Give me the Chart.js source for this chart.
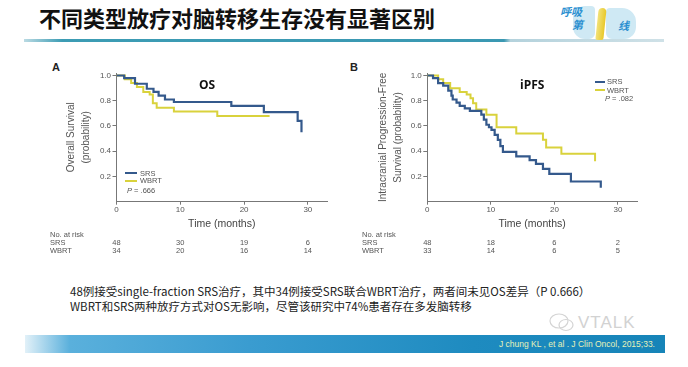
<!DOCTYPE html>
<html>
<head>
<meta charset="utf-8">
<script src="https://cdn.jsdelivr.net/npm/chart.js"></script>
<style>
  body { margin: 0; background: #fff; }
  #page { position: relative; width: 688px; height: 367px; overflow: hidden; background: #fff; font-family: "Liberation Sans", Arial, sans-serif; }
  .t { position: absolute; white-space: nowrap; line-height: 1; }
  .c { transform: translateX(-50%); }
  canvas { position: absolute; }
  .risk { font-size: 7.5px; color: #555; }
  .leg { position: absolute; height: 2px; }
  .logo { font-family: 'Noto Sans CJK SC'; font-weight: 700; font-style: italic; font-size: 11px; color: #2a8fd0; }
</style>
</head>
<body>
<div id="page">
  <!-- header -->
  <div class="t" style="left:39px;top:6px;font-family:'Noto Sans CJK SC';font-weight:700;font-size:22px;color:#111;">不同类型放疗对脑转移生存没有显著区别</div>
  <div style="position:absolute;left:24px;top:39px;width:640px;height:3px;background:linear-gradient(to right, rgba(60,150,175,0.35) 0%, #3c9cb4 6%, #3a98b2 75%, #b4d2dc 76%, #cfe1e7 100%);"></div>
  <div style="position:absolute;left:573px;top:6px;width:22px;height:33px;border-radius:12px 4px 6px 12px;background:#cfe9f4;"></div>
  <div style="position:absolute;left:606px;top:8px;width:30px;height:31px;border-radius:4px 14px 12px 6px;background:#cfe9f4;"></div>
  <div class="t logo" style="left:560px;top:6px;">呼吸</div>
  <div class="t logo" style="left:572px;top:19px;">第</div>
  <div style="position:absolute;left:597px;top:8px;width:8px;height:32px;border-radius:4px 4px 2px 2px;background:linear-gradient(to right,#f2e27a,#e8c82a);transform:skewX(-6deg);"></div>
  <div class="t logo" style="left:618px;top:20px;">线</div>

  <!-- panel labels -->
  <div class="t" style="left:52px;top:62px;font-weight:700;font-size:11px;color:#222;">A</div>
  <div class="t" style="left:350px;top:62px;font-weight:700;font-size:11px;color:#222;">B</div>

  <canvas id="chartA" width="276" height="175" style="left:64px;top:62px;"></canvas>
  <canvas id="chartB" width="274" height="175" style="left:376px;top:62px;"></canvas>

  <!-- in-plot titles and legends -->
  <div class="t" style="left:199px;top:79px;font-family:'Open Sans';font-weight:700;font-size:12px;color:#111;">OS</div>
  <div class="t" style="left:520px;top:79px;font-family:'Open Sans';font-weight:700;font-size:12px;color:#111;">iPFS</div>

  <div class="leg" style="left:125px;top:172px;width:12px;background:#34598c;"></div>
  <div class="t risk" style="left:140px;top:169.5px;">SRS</div>
  <div class="leg" style="left:125px;top:180px;width:12px;background:#d9d23c;"></div>
  <div class="t risk" style="left:140px;top:177px;">WBRT</div>
  <div class="t risk" style="left:127px;top:187px;"><i>P</i> = .666</div>

  <div class="leg" style="left:595px;top:81px;width:10px;background:#34598c;"></div>
  <div class="t risk" style="left:607px;top:78px;">SRS</div>
  <div class="leg" style="left:595px;top:89px;width:10px;background:#d9d23c;"></div>
  <div class="t risk" style="left:607px;top:86.5px;">WBRT</div>
  <div class="t risk" style="left:605px;top:95px;"><i>P</i> = .082</div>

  <div id="riskA"></div>
  <div id="riskB"></div>

  <!-- caption -->
  <div class="t" style="left:70px;top:286px;font-family:'Noto Sans CJK SC';font-size:11.5px;color:#222;">48例接受single-fraction SRS治疗，其中34例接受SRS联合WBRT治疗，两者间未见OS差异（P 0.666）</div>
  <div class="t" style="left:70px;top:300.5px;font-family:'Noto Sans CJK SC';font-size:11.5px;color:#222;">WBRT和SRS两种放疗方式对OS无影响，尽管该研究中74%患者存在多发脑转移</div>

  <!-- watermark -->
  <svg style="position:absolute;left:548px;top:312px;" width="28" height="22" viewBox="0 0 28 22">
    <ellipse cx="11" cy="9" rx="9" ry="7" fill="none" stroke="#d4d4d4" stroke-width="1.2"/>
    <ellipse cx="18" cy="13" rx="7" ry="5.5" fill="none" stroke="#d4d4d4" stroke-width="1.2"/>
  </svg>
  <div class="t" style="left:578px;top:314px;font-family:'Liberation Sans';font-size:17px;color:#d2d2d2;letter-spacing:1px;">VTALK</div>

  <!-- footer band -->
  <div style="position:absolute;left:25px;top:335px;width:640px;height:18px;background:linear-gradient(to right, rgba(60,160,210,0.15) 0%, #5ab0dc 7%, #3a9cd0 35%, #1e8bc0 70%, #1684b8 100%);"></div>
  <div class="t" style="right:33px;top:340px;font-family:'Liberation Sans';font-size:8.5px;color:#e6f2b8;">J chung KL , et al . J Clin Oncol, 2015;33.</div>
</div>

<script>
// tick values
const xTicks = [0, 10, 20, 30]
const yTicks = [0.2, 0.4, 0.6, 0.8, 1.0]

// OS curves (months, survival probability)
const osSrsTime = [0, 1.2, 2.9, 4.75, 5.8, 6.6, 7.6, 9.0, 18.0, 23.1, 28.4, 29.0]
const osSrsSurv = [1.0, 0.98, 0.935, 0.895, 0.87, 0.84, 0.81, 0.79, 0.76, 0.71, 0.64, 0.55]
const osWbrtTime = [0, 1.3, 2.3, 3.2, 4.2, 5.2, 5.7, 6.3, 9.0, 15.8, 24.0]
const osWbrtSurv = [1.0, 0.97, 0.94, 0.91, 0.87, 0.85, 0.78, 0.745, 0.715, 0.68, 0.68]

// iPFS curves
const pfsSrsTime = [0, 0.9, 1.7, 2.5, 3.3, 3.8, 4.0, 4.6, 5.1, 5.9, 6.7, 8.5, 8.9, 9.3, 9.7, 10.1, 10.6, 11.1, 11.5, 11.9, 14.0, 16.1, 17.1, 18.2, 19.2, 22.6, 27.3]
const pfsSrsSurv = [1.0, 0.98, 0.94, 0.92, 0.88, 0.84, 0.81, 0.785, 0.76, 0.74, 0.72, 0.69, 0.65, 0.61, 0.59, 0.57, 0.53, 0.49, 0.44, 0.395, 0.36, 0.33, 0.30, 0.26, 0.22, 0.16, 0.11]
const pfsWbrtTime = [0, 1.7, 2.5, 3.6, 5.1, 6.2, 6.8, 7.2, 7.7, 9.3, 10.9, 14.0, 18.2, 18.7, 21.1, 26.4]
const pfsWbrtSurv = [1.0, 0.97, 0.94, 0.90, 0.87, 0.85, 0.82, 0.78, 0.73, 0.69, 0.59, 0.54, 0.49, 0.43, 0.38, 0.32]

// number at risk
const riskTimes = [0, 10, 20, 30]
const osRiskSrs = [48, 30, 19, 6]
const osRiskWbrt = [34, 20, 16, 14]
const pfsRiskSrs = [48, 18, 6, 2]
const pfsRiskWbrt = [33, 14, 6, 5]

const SRS_COLOR = '#34598c'
const WBRT_COLOR = '#d9d23c'

function toPoints(times, surv) {
    return times.map((t, i) => ({ x: t, y: surv[i] }))
}

function makeKM(id, srs, wbrt, yTitle, yWidth) {
    const ctx = document.getElementById(id).getContext('2d')
    return new Chart(ctx, {
        type: 'line',
        data: {
            datasets: [
                { label: 'SRS', data: srs, borderColor: SRS_COLOR, borderWidth: 2.2, pointRadius: 0, stepped: 'before', fill: false },
                { label: 'WBRT', data: wbrt, borderColor: WBRT_COLOR, borderWidth: 2, pointRadius: 0, stepped: 'before', fill: false }
            ]
        },
        options: {
            responsive: false,
            animation: false,
            layout: { padding: { top: 11, right: 13, left: 0, bottom: 0 } },
            plugins: { legend: { display: false }, tooltip: { enabled: false } },
            scales: {
                x: {
                    type: 'linear', min: 0, max: 33,
                    afterBuildTicks: s => { s.ticks = xTicks.map(v => ({ value: v })) },
                    afterFit: s => { s.height = 35.3 },
                    grid: { drawOnChartArea: false, tickLength: 3, color: '#777' },
                    border: { color: '#777' },
                    ticks: { padding: 0, color: '#555', font: { size: 8, family: 'Liberation Sans' }, maxRotation: 0 },
                    title: { display: true, text: 'Time (months)', color: '#444', font: { size: 10.5, family: 'Liberation Sans' }, padding: { top: 0, bottom: 7 } }
                },
                y: {
                    min: 0, max: 1.02,
                    afterBuildTicks: s => { s.ticks = yTicks.map(v => ({ value: v })) },
                    afterFit: s => { s.width = yWidth },
                    grid: { drawOnChartArea: false, tickLength: 4, color: '#777' },
                    border: { color: '#777' },
                    ticks: { padding: 1.5, color: '#555', font: { size: 8, family: 'Liberation Sans' }, callback: v => v.toFixed(1) },
                    title: { display: true, text: yTitle, color: '#555', font: { size: 10, family: 'Liberation Sans', lineHeight: 1.5 }, padding: { top: 0, bottom: 0 } }
                }
            }
        }
    })
}

const chartA = makeKM('chartA', toPoints(osSrsTime, osSrsSurv), toPoints(osWbrtTime, osWbrtSurv),
    ['Overall Survival', '(probability)'], 52.5)
const chartB = makeKM('chartB', toPoints(pfsSrsTime, pfsSrsSurv), toPoints(pfsWbrtTime, pfsWbrtSurv),
    ['Intracranial Progression-Free', 'Survival (probability)'], 51.3)

// number-at-risk tables, placed under the x scale ticks
function riskTable(holder, chart, canvasLeft, labelLeft, srs, wbrt) {
    const el = document.getElementById(holder)
    let html = `<div class="t risk" style="left:${labelLeft}px;top:231px;">No. at risk</div>`
    html += `<div class="t risk" style="left:${labelLeft}px;top:239px;">SRS</div>`
    html += `<div class="t risk" style="left:${labelLeft}px;top:247px;">WBRT</div>`
    riskTimes.forEach((t, i) => {
        const x = canvasLeft + chart.scales.x.getPixelForValue(t)
        html += `<div class="t risk c" style="left:${x}px;top:239px;">${srs[i]}</div>`
        html += `<div class="t risk c" style="left:${x}px;top:247px;">${wbrt[i]}</div>`
    })
    el.innerHTML = html
}
riskTable('riskA', chartA, 64, 50, osRiskSrs, osRiskWbrt)
riskTable('riskB', chartB, 376, 362, pfsRiskSrs, pfsRiskWbrt)
</script>
</body>
</html>
